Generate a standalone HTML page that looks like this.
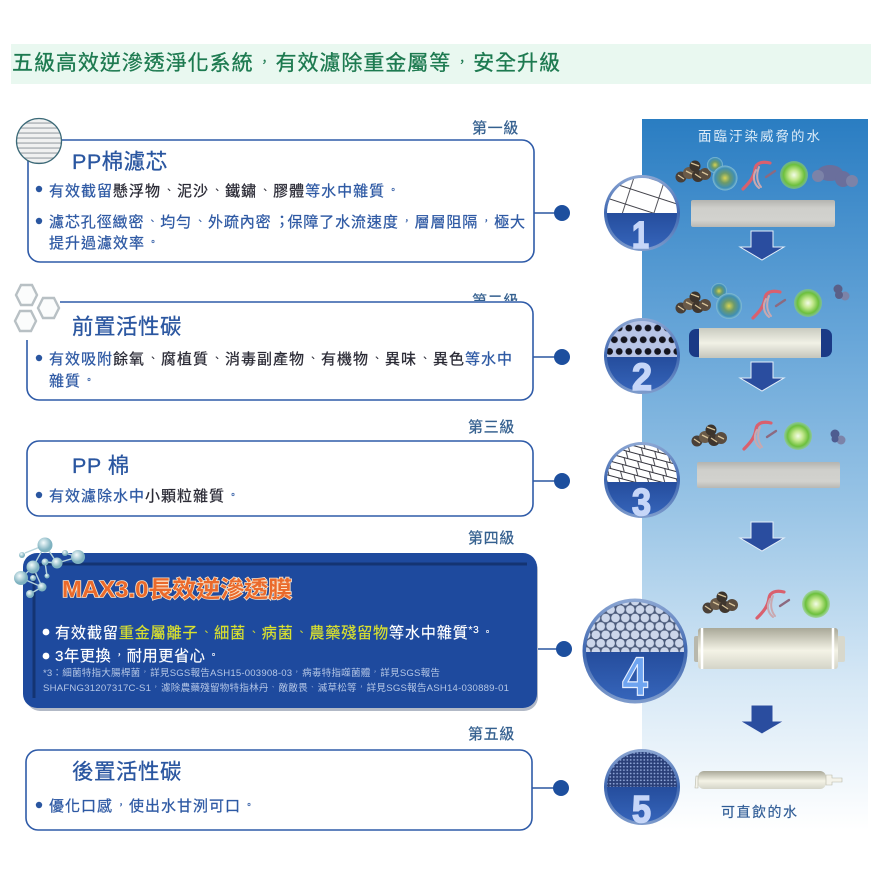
<!DOCTYPE html>
<html lang="zh-TW"><head><meta charset="utf-8">
<style>
html,body{margin:0;padding:0;background:#fff;width:879px;height:879px;overflow:hidden}
svg{display:block}
text{font-family:"Liberation Sans","Noto Sans CJK TC",sans-serif}
.b{font-size:15px;letter-spacing:1px;fill:#2f5aa4;stroke:#2f5aa4;stroke-width:.25}
.k{fill:#2a2a35;stroke:#2a2a35}
.h{font-size:21.5px;letter-spacing:.5px;fill:#2a56a0;stroke:#2a56a0;stroke-width:.3}
.l{font-size:15px;letter-spacing:.7px;fill:#35608f;stroke:#35608f;stroke-width:.25}
.w{font-size:15.2px;letter-spacing:1px;fill:#fff;stroke:#fff;stroke-width:.15}
.y{fill:#d9e02f;stroke:#d9e02f}
.s{font-size:9.6px;fill:#b4c6e6}
.p{font-size:9px}
.q{font-size:6px}
.n{font-weight:bold;fill:#c6d6f8;stroke:#c6d6f8;stroke-width:1.6}
</style></head><body>
<svg width="879" height="879" viewBox="0 0 879 879" xmlns="http://www.w3.org/2000/svg" lang="zh-TW">
<defs>
<linearGradient id="pg" x1="0" y1="0" x2="0" y2="1">
<stop offset="0" stop-color="#2a7dc2"/><stop offset=".3" stop-color="#66a5d8"/><stop offset=".55" stop-color="#9ac5e6"/><stop offset=".8" stop-color="#d8e9f6"/><stop offset="1" stop-color="#fff"/></linearGradient>
<linearGradient id="cyl" x1="0" y1="0" x2="0" y2="1"><stop offset="0" stop-color="#b4b4b0"/><stop offset=".3" stop-color="#cfcfcb"/><stop offset=".75" stop-color="#d2d2ce"/><stop offset="1" stop-color="#b8b8b4"/></linearGradient>
<linearGradient id="cyl2" x1="0" y1="0" x2="0" y2="1"><stop offset="0" stop-color="#c9cbc0"/><stop offset=".5" stop-color="#f1f1e6"/><stop offset="1" stop-color="#c4c6bc"/></linearGradient>
<linearGradient id="cyl4" x1="0" y1="0" x2="0" y2="1"><stop offset="0" stop-color="#a9a898"/><stop offset=".55" stop-color="#f4f3e6"/><stop offset="1" stop-color="#d4d4c8"/></linearGradient>
<linearGradient id="cb" x1="0" y1="0" x2="0" y2="1"><stop offset="0" stop-color="#254d9d"/><stop offset="1" stop-color="#3868be"/></linearGradient>
<linearGradient id="rim" x1="0" y1="0" x2="0" y2="1"><stop offset="0" stop-color="#8ea8d4"/><stop offset=".5" stop-color="#3d66b0"/><stop offset="1" stop-color="#7f9ccc"/></linearGradient>
<radialGradient id="gb"><stop offset="0" stop-color="#f2fbe8"/><stop offset=".35" stop-color="#c4e88e"/><stop offset=".75" stop-color="#6cc03c"/><stop offset="1" stop-color="#8fd070" stop-opacity=".6"/></radialGradient>
<radialGradient id="bub"><stop offset="0" stop-color="#d8d455"/><stop offset=".4" stop-color="#6d9a6a"/><stop offset=".8" stop-color="#3f8fb5"/><stop offset="1" stop-color="#86bfd6"/></radialGradient>
<radialGradient id="ms" cx=".4" cy=".35"><stop offset="0" stop-color="#f4fbfc"/><stop offset="1" stop-color="#7fb2c0"/></radialGradient>
<pattern id="mesh1" width="30" height="16" patternUnits="userSpaceOnUse" patternTransform="rotate(18 642 190)"><rect width="30" height="16" fill="#fff"/><path d="M0 .5H30M.5 0V16" stroke="#44444c" stroke-width=".9"/></pattern>
<pattern id="mesh3" width="14" height="7" patternUnits="userSpaceOnUse" patternTransform="rotate(15)"><rect width="14" height="7" fill="#fff"/><path d="M0 .5H14M7 0L11 7" stroke="#33333c" stroke-width=".9"/></pattern>
<pattern id="dots2" width="9.6" height="23.4" patternUnits="userSpaceOnUse" patternTransform="translate(0 322.2)"><rect width="9.6" height="23.4" fill="#b7c4e6"/><circle cx="4.8" cy="5.85" r="3.4" fill="#15151f"/><circle cx="0" cy="17.55" r="3.4" fill="#15151f"/><circle cx="9.6" cy="17.55" r="3.4" fill="#15151f"/></pattern>
<pattern id="circ4" width="9.8" height="16.8" patternUnits="userSpaceOnUse" patternTransform="translate(3 597)"><rect width="9.8" height="16.8" fill="#4b5a7a"/><g fill="#ccd6ea"><circle cx="4.9" cy="4.2" r="4.3"/><circle cx="0" cy="12.6" r="4.3"/><circle cx="9.8" cy="12.6" r="4.3"/></g></pattern>
<pattern id="dot5" width="3.4" height="3.4" patternUnits="userSpaceOnUse"><rect width="3.4" height="3.4" fill="#2a3f78"/><circle cx="1.7" cy="1.7" r=".9" fill="#8fa6d8"/></pattern>
<pattern id="stripe" width="10" height="5" patternUnits="userSpaceOnUse" patternTransform="translate(0 119)"><rect width="10" height="5" fill="#f0f1f1"/><rect y="3.4" width="10" height="1.3" fill="#a6acb0"/></pattern>
<clipPath id="c1"><circle cx="642" cy="213" r="35"/></clipPath>
<clipPath id="c2"><circle cx="642" cy="356" r="35"/></clipPath>
<clipPath id="c3"><circle cx="642" cy="480" r="35"/></clipPath>
<clipPath id="c4"><circle cx="635" cy="651" r="49"/></clipPath>
<clipPath id="c5"><circle cx="642" cy="787" r="35"/></clipPath>
<clipPath id="cl2"><rect x="460" y="280" width="70" height="21"/></clipPath>
<g id="clu"><circle cx="5" cy="17" r="5.5" fill="#4a4038"/><circle cx="13" cy="13" r="6" fill="#6a5a48"/><circle cx="19" cy="6" r="5.5" fill="#3c342c"/><circle cx="22" cy="16" r="6" fill="#3f362e"/><circle cx="29" cy="14" r="6" fill="#5a4c3e"/><path d="M2 15l6 4M10 11l6 3M15 3l8 3M19 14l6 4M26 12l6 3" stroke="#d8c49a" stroke-width="1.3"/></g>
<g id="wrm" fill="none" stroke-linecap="round"><path d="M1 28C8 21 12 16 13 8C14 2 20 0 28 2" stroke="#d9606e" stroke-width="3.2"/><path d="M14 9C10 16 12 23 17 27M17 6C14 14 15 21 19 26" stroke="#c9a8b0" stroke-width="2"/><path d="M24 16L33 10" stroke="#8c6a80" stroke-width="2.4"/></g>
<g id="grn"><circle r="14" fill="url(#gb)"/></g>
<g id="arr"><path d="M-11 0H11V16H22L0 29L-22 16H-11Z" fill="#2a4d9f" stroke="#e4eef8" stroke-width="1"/></g>
</defs>

<rect x="11" y="44" width="860" height="40" fill="#e9f8f0"/>
<text x="12" y="70" font-size="21" letter-spacing="1" fill="#1d7a50" stroke="#1d7a50" stroke-width=".3" textLength="549">五級高效逆滲透淨化系統<tspan font-size="12" dx="5" dy="-4">，</tspan><tspan dx="4" dy="4">有效濾除重金屬等</tspan><tspan font-size="12" dx="5" dy="-4">，</tspan><tspan dx="4" dy="4">安全升級</tspan></text>

<rect x="642" y="119" width="226" height="711" fill="url(#pg)"/>
<text x="698" y="141" font-size="13.5" fill="#dcebf7" textLength="122">面臨汙染威脅的水</text>

<text class="l" x="472" y="133" textLength="47">第一級</text>
<text class="l" x="472" y="306" textLength="47" clip-path="url(#cl2)">第二級</text>
<text class="l" x="468" y="432" textLength="47">第三級</text>
<text class="l" x="468" y="543" textLength="47">第四級</text>
<text class="l" x="468" y="739" textLength="47">第五級</text>

<g stroke="#2a56a0" stroke-width="1.6"><path d="M533 213H560M533 357H560M533 481H560M538 649H562M532 788H560"/></g>
<g fill="#1d4f9e"><circle cx="562" cy="213" r="8"/><circle cx="562" cy="357" r="8"/><circle cx="562" cy="481" r="8"/><circle cx="564" cy="649" r="8"/><circle cx="561" cy="788" r="8"/></g>

<rect x="28" y="140" width="506" height="122" rx="12" fill="#fff" stroke="#2f5ba8" stroke-width="1.6"/>
<circle cx="39" cy="141" r="22.5" fill="url(#stripe)" stroke="#3c6a78" stroke-width="1.3"/>
<text class="h" x="72" y="169">PP棉濾芯</text>
<circle cx="39" cy="189" r="3.2" fill="#2a56a0"/><circle cx="39" cy="221" r="3.2" fill="#2a56a0"/>
<text class="b" x="49" y="196">有效截留<tspan class="k">懸浮物<tspan class="p" dx="3.5" dy="-3">、</tspan><tspan dx="2.5" dy="3">泥沙</tspan><tspan class="p" dx="3.5" dy="-3">、</tspan><tspan dx="2.5" dy="3">鐵鏽</tspan><tspan class="p" dx="3.5" dy="-3">、</tspan><tspan dx="2.5" dy="3">膠體</tspan></tspan>等水中雜質<tspan class="p" dx="3.5" dy="-3">。</tspan></text>
<text class="b" x="49" y="227" textLength="477">濾芯孔徑緻密<tspan class="p" dx="3.5" dy="-3">、</tspan><tspan dx="2.5" dy="3">均勻</tspan><tspan class="p" dx="3.5" dy="-3">、</tspan><tspan dx="2.5" dy="3">外疏內密</tspan><tspan dx="3" dy="-1">；</tspan><tspan dx="-3" dy="1">保障了水流速度</tspan><tspan class="p" dx="3.5" dy="-3">，</tspan><tspan dx="2.5" dy="3">層層阻隔</tspan><tspan class="p" dx="3.5" dy="-3">，</tspan><tspan dx="2.5" dy="3">極大</tspan></text>
<text class="b" x="49" y="248">提升過濾效率<tspan class="p" dx="3.5" dy="-3">。</tspan></text>

<path d="M60 302H521a12 12 0 0 1 12 12V388a12 12 0 0 1-12 12H39a12 12 0 0 1-12-12V340" fill="none" stroke="#2f5ba8" stroke-width="1.6"/>
<g fill="#fbfcfc" stroke="#b8c0c4" stroke-width="2.4"><path d="M16 295l5-10h11l5 10-5 10H21Z"/><path d="M38 308l5-10h11l5 10-5 10H43Z"/><path d="M15 321l5-10h11l5 10-5 10H20Z"/></g>
<text class="h" x="72" y="334">前置活性碳</text>
<circle cx="39" cy="358" r="3.2" fill="#2a56a0"/>
<text class="b" x="49" y="364" textLength="464">有效吸附<tspan class="k">餘氧<tspan class="p" dx="3.5" dy="-3">、</tspan><tspan dx="2.5" dy="3">腐植質</tspan><tspan class="p" dx="3.5" dy="-3">、</tspan><tspan dx="2.5" dy="3">消毒副產物</tspan><tspan class="p" dx="3.5" dy="-3">、</tspan><tspan dx="2.5" dy="3">有機物</tspan><tspan class="p" dx="3.5" dy="-3">、</tspan><tspan dx="2.5" dy="3">異味</tspan><tspan class="p" dx="3.5" dy="-3">、</tspan><tspan dx="2.5" dy="3">異色</tspan></tspan>等水中</text>
<text class="b" x="49" y="386">雜質<tspan class="p" dx="3.5" dy="-3">。</tspan></text>

<rect x="27" y="441" width="506" height="75" rx="12" fill="#fff" stroke="#2f5ba8" stroke-width="1.6"/>
<text class="h" x="72" y="473">PP 棉</text>
<circle cx="39" cy="495" r="3.2" fill="#2a56a0"/>
<text class="b" x="49" y="501">有效濾除水中<tspan class="k">小顆粒雜質</tspan><tspan class="p" dx="3.5" dy="-3">。</tspan></text>

<rect x="26" y="556" width="512" height="155" rx="14" fill="#7f8ba0" opacity=".6"/>
<rect x="23" y="553" width="514" height="155" rx="14" fill="#1e4a9e"/>
<path d="M34 698V574a10 10 0 0 1 10-10H527" fill="none" stroke="#143472" stroke-width="3"/>
<g stroke="#b6d4dc" stroke-width="1.4" fill="none"><path d="M21 578L33 567L45 545L57 563L78 557M45 545L25 553M33 567L42 587L30 594M21 578L42 587M45 562L57 563M47 576L45 562M65 553L78 557"/></g>
<g fill="url(#ms)"><circle cx="45" cy="545" r="7.5"/><circle cx="78" cy="557" r="7"/><circle cx="57" cy="563" r="5.5"/><circle cx="33" cy="567" r="6.5"/><circle cx="21" cy="578" r="7"/><circle cx="42" cy="587" r="4.5"/><circle cx="30" cy="594" r="4"/><circle cx="22" cy="555" r="3"/><circle cx="45" cy="562" r="3.5"/><circle cx="65" cy="553" r="3"/><circle cx="47" cy="576" r="2.5"/><circle cx="33" cy="578" r="3"/></g>
<text x="62" y="597" font-size="23" font-weight="bold" fill="#ea6a2c" stroke="#fbe3c8" stroke-width="1.6" paint-order="stroke" textLength="230" lengthAdjust="spacingAndGlyphs">MAX3.0長效逆滲透膜</text>
<circle cx="46" cy="632" r="3.4" fill="#fff"/><circle cx="46" cy="656" r="3.4" fill="#fff"/>
<text class="w" x="55" y="638" textLength="438">有效截留<tspan class="y">重金屬離子<tspan class="p" dx="3.5" dy="-3">、</tspan><tspan dx="2.5" dy="3">細菌</tspan><tspan class="p" dx="3.5" dy="-3">、</tspan><tspan dx="2.5" dy="3">病菌</tspan><tspan class="p" dx="3.5" dy="-3">、</tspan><tspan dx="2.5" dy="3">農藥殘留物</tspan></tspan>等水中雜質<tspan font-size="10" dy="-5">*3</tspan><tspan class="p" dx="3.5" dy="2">。</tspan></text>
<text class="w" x="55" y="661" textLength="164">3年更換<tspan class="p" dx="3.5" dy="-3">，</tspan><tspan dx="2.5" dy="3">耐用更省心</tspan><tspan class="p" dx="3.5" dy="-3">。</tspan></text>
<text class="s" x="43" y="676" textLength="397">*3：細菌特指大腸桿菌<tspan class="q" dx="1.5" dy="-2">，</tspan><tspan dx="2.1" dy="2">詳見SGS報告ASH15-003908-03</tspan><tspan class="q" dx="1.5" dy="-2">，</tspan><tspan dx="2.1" dy="2">病毒特指噬菌體</tspan><tspan class="q" dx="1.5" dy="-2">，</tspan><tspan dx="2.1" dy="2">詳見SGS報告</tspan></text>
<text class="s" x="43" y="691" textLength="466">SHAFNG31207317C-S1<tspan class="q" dx="1.5" dy="-2">，</tspan><tspan dx="2.1" dy="2">濾除農藥殘留物特指林丹</tspan><tspan class="q" dx="1.5" dy="-2">、</tspan><tspan dx="2.1" dy="2">敵敵畏</tspan><tspan class="q" dx="1.5" dy="-2">、</tspan><tspan dx="2.1" dy="2">滅草松等</tspan><tspan class="q" dx="1.5" dy="-2">，</tspan><tspan dx="2.1" dy="2">詳見SGS報告ASH14-030889-01</tspan></text>

<rect x="26" y="750" width="506" height="80" rx="12" fill="#fff" stroke="#2f5ba8" stroke-width="1.6"/>
<text class="h" x="72" y="779">後置活性碳</text>
<circle cx="39" cy="805" r="3.2" fill="#2a56a0"/>
<text class="b" x="49" y="811">優化口感<tspan class="p" dx="3.5" dy="-3">，</tspan><tspan dx="2.5" dy="3">使出水甘洌可口</tspan><tspan class="p" dx="3.5" dy="-3">。</tspan></text>

<circle cx="642" cy="213" r="38" fill="url(#rim)"/><g clip-path="url(#c1)"><rect x="600" y="175" width="84" height="38" fill="url(#mesh1)"/><rect x="600" y="213" width="84" height="40" fill="url(#cb)"/></g>
<text class="n" x="632" y="248" font-size="38" textLength="17" lengthAdjust="spacingAndGlyphs">1</text>
<circle cx="642" cy="356" r="38" fill="url(#rim)"/><g clip-path="url(#c2)"><rect x="600" y="318" width="84" height="39" fill="url(#dots2)"/><rect x="600" y="357" width="84" height="40" fill="url(#cb)"/></g>
<text class="n" x="632" y="390" font-size="38" textLength="20" lengthAdjust="spacingAndGlyphs">2</text>
<circle cx="642" cy="480" r="38" fill="url(#rim)"/><g clip-path="url(#c3)"><rect x="600" y="442" width="84" height="40" fill="url(#mesh3)"/><rect x="600" y="482" width="84" height="38" fill="url(#cb)"/></g>
<text class="n" x="632" y="515" font-size="38" textLength="19" lengthAdjust="spacingAndGlyphs">3</text>
<circle cx="635" cy="651" r="52.5" fill="url(#rim)"/><g clip-path="url(#c4)"><rect x="582" y="598" width="106" height="54" fill="url(#circ4)"/><rect x="582" y="652" width="106" height="54" fill="url(#cb)"/></g>
<text x="622" y="695" font-size="55" font-weight="bold" fill="#6ea4f0" stroke="#e8f0ff" stroke-width="1.2" textLength="26" lengthAdjust="spacingAndGlyphs">4</text>
<circle cx="642" cy="787" r="38" fill="url(#rim)"/><g clip-path="url(#c5)"><rect x="600" y="749" width="84" height="38" fill="url(#dot5)"/><rect x="600" y="787" width="84" height="40" fill="url(#cb)"/></g>
<text class="n" x="632" y="822" font-size="38" textLength="19" lengthAdjust="spacingAndGlyphs">5</text>

<rect x="691" y="200" width="144" height="27" rx="2" fill="url(#cyl)"/>
<rect x="689" y="329" width="143" height="28" rx="7" fill="#1a3a86"/><rect x="699" y="328" width="122" height="30" fill="url(#cyl2)"/>
<rect x="697" y="462" width="143" height="26" rx="2" fill="url(#cyl)"/>
<rect x="694" y="636" width="8" height="26" rx="2" fill="#b8b8ac"/><rect x="836" y="636" width="9" height="26" rx="2" fill="#d8d8cc"/>
<rect x="698" y="628" width="140" height="41" rx="3" fill="url(#cyl4)"/>
<path d="M702 628V669M833 628V669" stroke="#fff" stroke-width="2.5"/>
<rect x="698" y="771" width="128" height="18" rx="6" fill="url(#cyl4)"/>
<path d="M826 775h6v3h10v4h-10v3h-6ZM698 776h-2l-1 12h3Z" fill="#f4f3ea" stroke="#b8b8a8" stroke-width=".6"/>
<text x="721" y="817" font-size="14" fill="#2f5c96" stroke="#2f5c96" stroke-width=".15" textLength="76">可直飲的水</text>

<use href="#arr" x="762" y="231"/><use href="#arr" x="762" y="362"/><use href="#arr" x="762" y="522"/><use href="#arr" x="762" y="705"/>

<use href="#clu" x="676" y="160"/><circle cx="715" cy="165" r="8" fill="url(#bub)"/><circle cx="725" cy="178" r="12.5" fill="url(#bub)"/><use href="#wrm" x="742" y="161"/><use href="#grn" x="794" y="175"/>
<g fill="#6a6f9c"><ellipse cx="830" cy="173" rx="13" ry="8"/><circle cx="843" cy="179" r="8"/><circle cx="852" cy="181" r="6" fill="#7c83a8"/><circle cx="818" cy="176" r="6" fill="#7c83a8"/></g>
<use href="#clu" x="676" y="291"/><circle cx="719" cy="291" r="8" fill="url(#bub)"/><circle cx="729" cy="306" r="13" fill="url(#bub)"/><use href="#wrm" x="752" y="290"/><use href="#grn" x="808" y="303"/>
<g fill="#5a6088"><circle cx="838" cy="289" r="4.5"/><circle cx="845" cy="296" r="4.5" fill="#7c83a8"/><circle cx="839" cy="295" r="4"/></g>
<use href="#clu" x="692" y="424"/><use href="#wrm" x="743" y="421"/><use href="#grn" x="798" y="436"/>
<g fill="#4e5c90"><circle cx="835" cy="434" r="4.5"/><circle cx="841" cy="440" r="4.5" fill="#7c83a8"/><circle cx="835" cy="439" r="3.5"/></g>
<use href="#clu" x="703" y="591"/><use href="#wrm" x="756" y="590"/><use href="#grn" transform="translate(816 604)"/>
</svg>
</body></html>
